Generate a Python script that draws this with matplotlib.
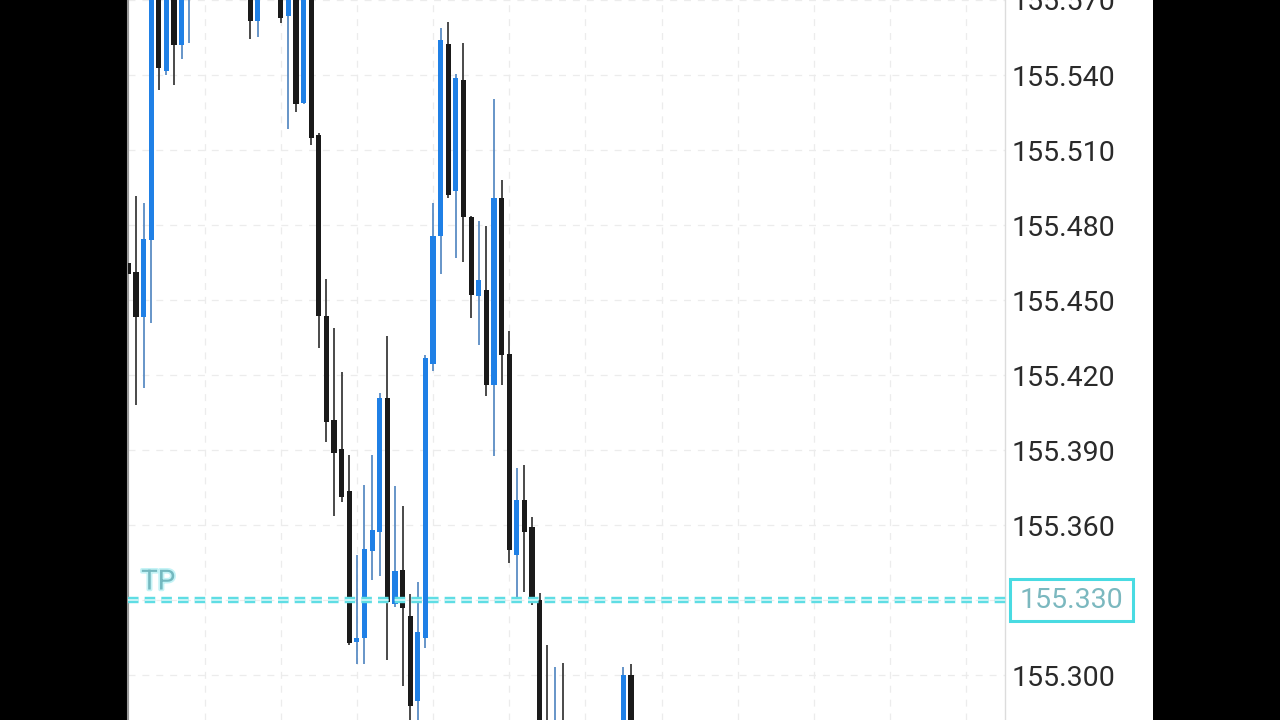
import numpy as np
import matplotlib
matplotlib.use("Agg")
import matplotlib.pyplot as plt
from matplotlib.patches import Rectangle
import matplotlib.patheffects as pe

plt.rcParams['font.family'] = ['Roboto', 'DejaVu Sans']
plt.rcParams['lines.scale_dashes'] = False

nan = np.nan
# candle index (bar number), open, high, low, close
idx = list(range(-1, 66))
opens = [155.4648, 155.4612, 155.4432, 155.4740, 155.5800, 155.5416, 155.5900, 155.5520, 155.5850,
         nan, nan, nan, nan, nan, nan, nan,
         155.5900, 155.5616, nan, nan, 155.5850, 155.5636, 155.5900, 155.5288, 155.5900,
         155.5160, 155.4436, 155.4020, 155.3904, 155.3736, 155.3132, 155.3148, 155.3496, 155.3572,
         155.4108, 155.3284, 155.3420, 155.3236, 155.2896, 155.3148, 155.4244, 155.4756, 155.5524,
         155.4936, 155.5380, 155.4832, 155.4516, 155.4540, 155.4160, 155.4908, 155.4284, 155.3480,
         155.3700, 155.3592, 155.3300, 155.2780, 155.2650, 155.2812,
         nan, nan, nan, nan, nan, nan, nan,
         155.2700, 155.3000]
highs = [155.4660, 155.4916, 155.4888, 155.5800, 155.5850, 155.5900, 155.5950, 155.6000, 155.6000,
         nan, nan, nan, nan, nan, nan, nan,
         155.6000, 155.6000, nan, nan, 155.5900, 155.5900, 155.5950, 155.6000, 155.5950,
         155.5168, 155.4584, 155.4388, 155.4212, 155.3880, 155.3480, 155.3760, 155.3880, 155.4128,
         155.4356, 155.3756, 155.3676, 155.3324, 155.3372, 155.4280, 155.4888, 155.5588, 155.5612,
         155.5404, 155.5528, 155.4836, 155.4816, 155.4796, 155.5304, 155.4980, 155.4376, 155.3828,
         155.3840, 155.3632, 155.3328, 155.3120, 155.3032, 155.3048,
         nan, nan, nan, nan, nan, nan, nan,
         155.3032, 155.3044]
lows = [155.4590, 155.4080, 155.4148, 155.4408, 155.5340, 155.5400, 155.5360, 155.5464, 155.5528,
        nan, nan, nan, nan, nan, nan, nan,
        155.5544, 155.5552, nan, nan, 155.5608, 155.5186, 155.5252, 155.5284, 155.5120,
        155.4308, 155.3932, 155.3636, 155.3692, 155.3120, 155.3044, 155.3044, 155.3380, 155.3396,
        155.3060, 155.3272, 155.2956, 155.2780, 155.2790, 155.3108, 155.4216, 155.4604, 155.4908,
        155.4668, 155.4652, 155.4428, 155.4320, 155.4116, 155.3876, 155.4160, 155.3448, 155.3312,
        155.3332, 155.3280, 155.2650, 155.2620, 155.2600, 155.2600,
        nan, nan, nan, nan, nan, nan, nan,
        155.2650, 155.2650]
closes = [155.4604, 155.4432, 155.4744, 155.5780, 155.5428, 155.5850, 155.5520, 155.5900, 155.5950,
          nan, nan, nan, nan, nan, nan, nan,
          155.5616, 155.5900, nan, nan, 155.5628, 155.5850, 155.5286, 155.5900, 155.5148,
          155.4436, 155.4012, 155.3888, 155.3712, 155.3128, 155.3148, 155.3504, 155.3580, 155.4108,
          155.3292, 155.3416, 155.3268, 155.2876, 155.3172, 155.4268, 155.4756, 155.5540, 155.4920,
          155.5388, 155.4832, 155.4520, 155.4580, 155.4160, 155.4908, 155.4280, 155.3500, 155.3700,
          155.3572, 155.3288, 155.2720, 155.2680, 155.2750, 155.2680,
          nan, nan, nan, nan, nan, nan, nan,
          155.3000, 155.2750]

price_ticks = [155.300, 155.330, 155.360, 155.390, 155.420, 155.450, 155.480, 155.510, 155.540, 155.570]
tp_price = 155.330
tp_label = "TP"
y_min, y_max = 155.282, 155.570
x_min, x_max = -1.05, 114.1

W, H = 1280, 720
fig = plt.figure(figsize=(W / 100, H / 100), dpi=100, facecolor='black')
# white chart panel
fig.patches.append(Rectangle((128 / W, 0), (1153 - 128) / W, 1, transform=fig.transFigure,
                             facecolor='white', edgecolor='none', zorder=-5))
ax = fig.add_axes([128 / W, 0, (1005 - 128) / W, 1])
ax.set_facecolor('white')
ax.set_xlim(x_min, x_max)
ax.set_ylim(y_min, y_max)

# grid
for p in price_ticks:
    ax.axhline(p, color='#ececec', lw=0.9, dashes=(5, 5), zorder=0)
for g in range(9, 115, 10):
    ax.axvline(g, color='#ececec', lw=0.9, dashes=(5, 5), zorder=0)

blue = '#1f80e6'
black = '#1a1a1a'
body_w = 0.68
for i, o, h, l, c in zip(idx, opens, highs, lows, closes):
    if np.isnan(o):
        continue
    up = c >= o
    col = blue if up else black
    wcol = '#5a8cc4' if up else '#3c3c3c'
    ax.vlines(i, l, h, color=wcol, lw=1.3, zorder=2)
    lo, hi = min(o, c), max(o, c)
    ax.add_patch(Rectangle((i - body_w / 2, lo), body_w, max(hi - lo, 0.0008),
                           facecolor=col, edgecolor='none', zorder=3))

# TP line
ax.plot([0, 1.004], [tp_price, tp_price], transform=ax.get_yaxis_transform(),
        color='#5fdde4', lw=4.6, dashes=(7.6, 4.4), clip_on=False, zorder=4, dash_capstyle='butt')
ax.plot([0, 1.004], [tp_price, tp_price], transform=ax.get_yaxis_transform(),
        color='#e4fafb', lw=1.1, dashes=(7.6, 4.4), clip_on=False, zorder=5, dash_capstyle='butt')
ax.text(0.015, tp_price + 0.0018, tp_label, transform=ax.get_yaxis_transform(),
        fontsize=20, color='#74b8bf', va='bottom', ha='left', zorder=6,
        path_effects=[pe.withStroke(linewidth=2.5, foreground='#c4f3f6')])

# axis styling
for s in ['top', 'bottom']:
    ax.spines[s].set_visible(False)
ax.spines['left'].set_color('#9a9a9a')
ax.spines['left'].set_linewidth(1.5)
ax.spines['right'].set_color('#dcdcdc')
ax.spines['right'].set_linewidth(1.0)
ax.set_xticks([])
ax.yaxis.tick_right()
ax.set_yticks(price_ticks)
ax.set_yticklabels(["" if abs(p - tp_price) < 1e-9 else f"{p:.3f}" for p in price_ticks])
ax.tick_params(axis='y', length=0, pad=5, labelsize=20.5, labelcolor='#2a2a2a')

# TP price box
fig.patches.append(Rectangle((1010 / W, 1 - 621 / H), 123 / W, 42 / H, transform=fig.transFigure,
                             facecolor='white', edgecolor='#49dbe2', lw=2.2, zorder=5))
fig.text(1071.5 / W, 1 - 600 / H, f"{tp_price:.3f}", fontsize=20.5, color='#7bb8bf',
         ha='center', va='center', zorder=6)

fig.savefig('out.png', dpi=100, facecolor='black')
